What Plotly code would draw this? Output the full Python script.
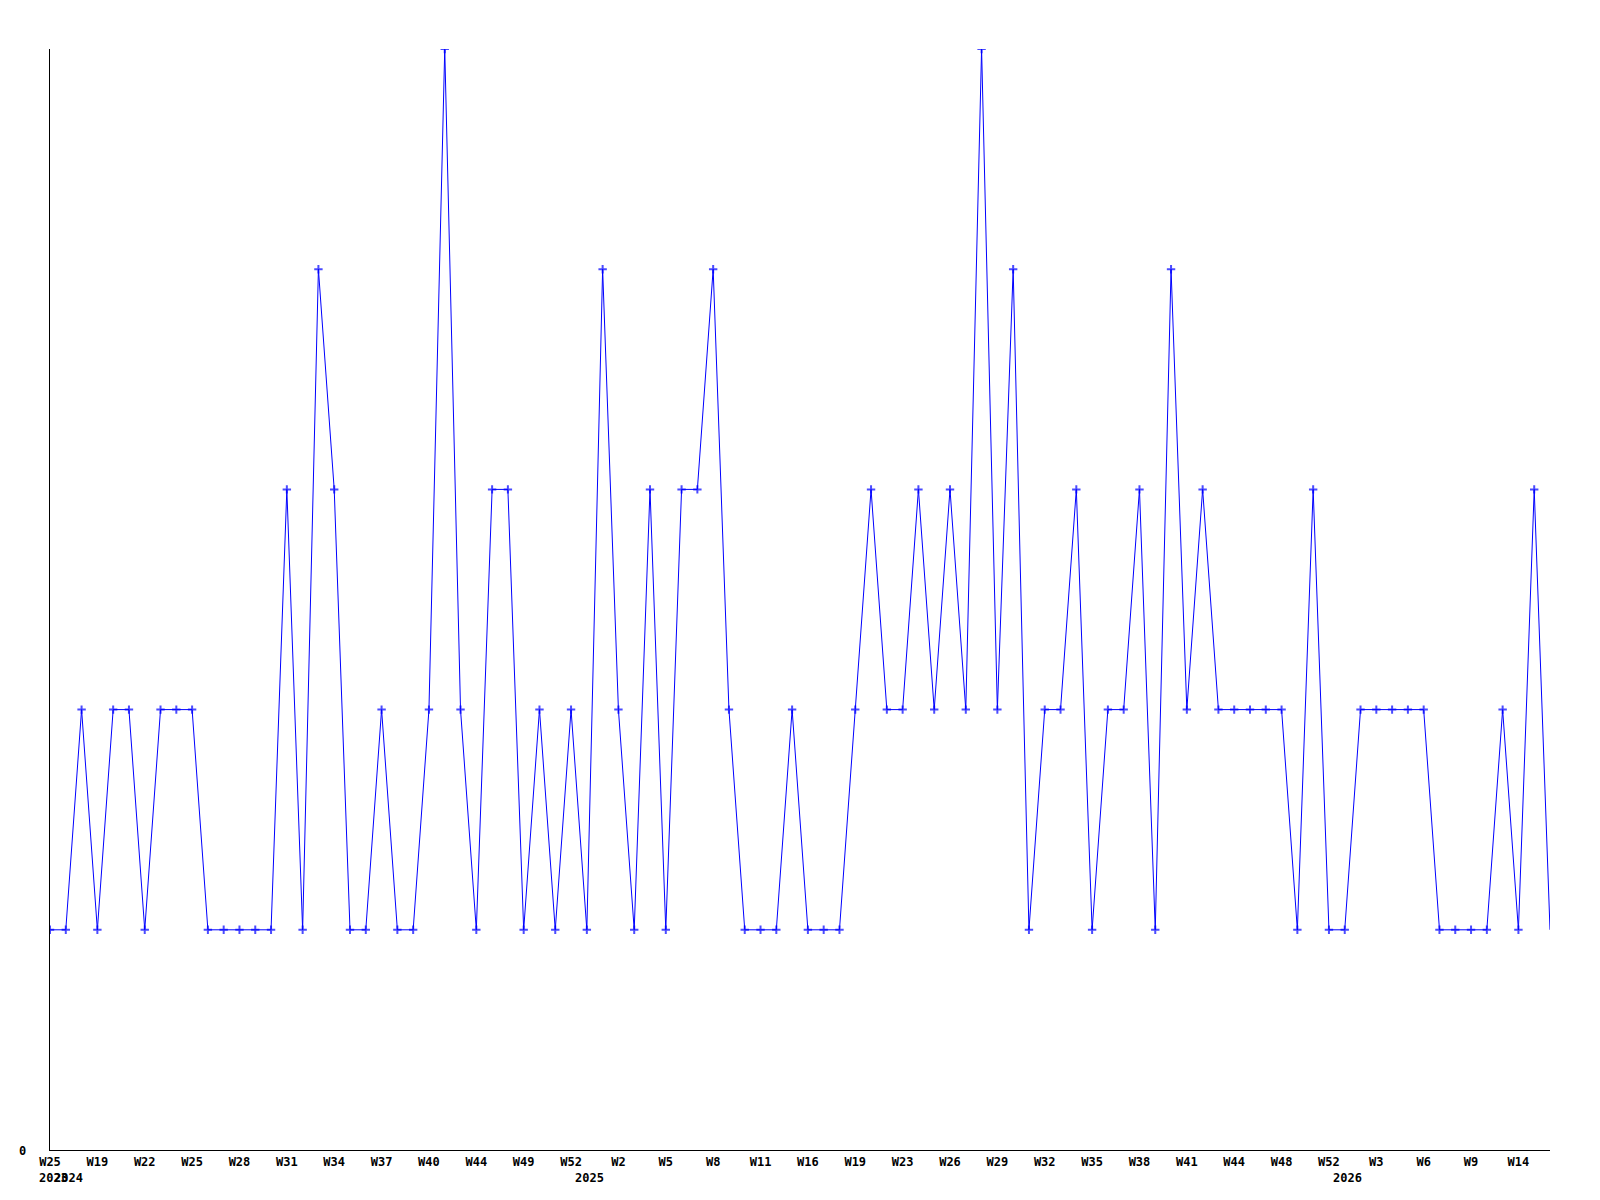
import plotly.graph_objects as go

values = [1, 1, 2, 1, 2, 2, 1, 2, 2, 2,
          1, 1, 1, 1, 1, 3, 1, 4, 3, 1,
          1, 2, 1, 1, 2, 5, 2, 1, 3, 3,
          1, 2, 1, 2, 1, 4, 2, 1, 3, 1,
          3, 3, 4, 2, 1, 1, 1, 2, 1, 1,
          1, 2, 3, 2, 2, 3, 2, 3, 2, 5,
          2, 4, 1, 2, 2, 3, 1, 2, 2, 3,
          1, 4, 2, 3, 2, 2, 2, 2, 2, 1,
          3, 1, 1, 2, 2, 2, 2, 2, 1, 1,
          1, 1, 2, 1, 3, 1]

tick_positions = list(range(0, 96, 3))
tick_labels = ["W25", "W19", "W22", "W25", "W28", "W31", "W34", "W37", "W40", "W44",
               "W49", "W52", "W2", "W5", "W8", "W11", "W16", "W19", "W23", "W26",
               "W29", "W32", "W35", "W38", "W41", "W44", "W48", "W52", "W3", "W6",
               "W9", "W14"]
year_positions = [0, 1, 34, 82]
year_labels = ["2023", "2024", "2025", "2026"]

x = list(range(len(values)))
sizes = [6] * (len(values) - 1) + [0]

FONT = "DejaVu Sans Mono"

fig = go.Figure()
fig.add_trace(go.Scatter(
    x=x, y=values, mode="lines+markers",
    line=dict(color="#0000ff", width=1),
    marker=dict(symbol="cross-thin", size=sizes, color="#0000ff",
                line=dict(color="#0000ff", width=2)),
    hoverinfo="skip", showlegend=False,
))

annotations = []
for p, t in zip(year_positions, year_labels):
    annotations.append(dict(x=p, y=0, xref="x", yref="y", text=t, showarrow=False,
                            xshift=3, yshift=-28,
                            font=dict(family=FONT, size=12, color="black", weight="bold")))
annotations.append(dict(x=0, y=0, xref="x", yref="y", text="0", showarrow=False,
                        xshift=-28, yshift=-1, font=dict(family=FONT, size=12, color="black", weight="bold")))

fig.update_layout(
    width=1600, height=1200,
    margin=dict(l=42, r=58, t=41, b=58),
    paper_bgcolor="white", plot_bgcolor="white",
    font=dict(family=FONT, size=12, color="black"),
    xaxis=dict(range=[0, 95], tickmode="array", tickvals=tick_positions, ticktext=tick_labels,
               showgrid=False, zeroline=False, showline=True, linecolor="black", linewidth=1,
               ticks="", tickfont=dict(family=FONT, size=12, color="black", weight="bold"),
               ticklabelstandoff=1),
    yaxis=dict(range=[0, 5], showgrid=False, zeroline=False, showline=True, linecolor="black",
               linewidth=1, showticklabels=False, ticks=""),
    annotations=annotations,
)

fig.write_html("out.html")
